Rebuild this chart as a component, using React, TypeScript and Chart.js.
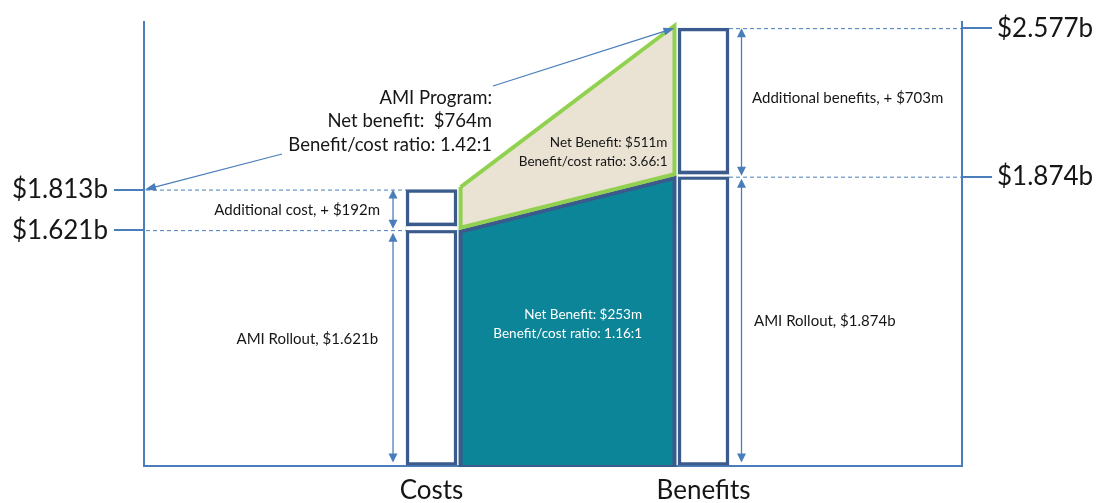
import React, { useEffect, useRef } from 'react';
import { Chart, registerables } from 'chart.js';

Chart.register(...registerables);

// ---------------- data ($ billions) ----------------
const categories = ['Costs', 'Benefits'];
const rolloutValues = [1.621, 1.874];
const additionalValues = [0.192, 0.703];
const programTotals = [1.813, 2.577];
const leftTickValues = [1.621, 1.813];
const rightTickValues = [1.874, 2.577];

const programNote = ['AMI Program:', 'Net benefit:  $764m', 'Benefit/cost ratio: 1.42:1'];
const upperNote = ['Net Benefit: $511m', 'Benefit/cost ratio: 3.66:1'];
const lowerNote = ['Net Benefit: $253m', 'Benefit/cost ratio: 1.16:1'];
const costLabels = ['Additional cost, + $192m', 'AMI Rollout, $1.621b'];
const benefitLabels = ['Additional benefits, + $703m', 'AMI Rollout, $1.874b'];

// ---------------- layout / style ----------------
const CATEGORY_POS = [35.15, 68.4];
const X_MIN = 0;
const X_MAX = 100;
const Y_MIN = 0.507;
const Y_MAX = 2.608;
const BAR_PX = 51;
const POLY_INSET = 3.55;

const NAVY = '#3A5B8C';
const TEAL = '#0C8599';
const BEIGE = '#EAE3D4';
const GREEN = '#92D050';
const BLUE = '#4A7EBB';
const TEXT = '#161616';
const FONT = 'Lato';

const fmtB = (v: number) => '$' + Number(v).toFixed(3) + 'b';

function drawArrowHead(ctx: CanvasRenderingContext2D, x1: number, y1: number, x2: number, y2: number, len = 9, hw = 4.5) {
  const a = Math.atan2(y2 - y1, x2 - x1);
  ctx.beginPath();
  ctx.moveTo(x2, y2);
  ctx.lineTo(x2 - len * Math.cos(a) + hw * Math.sin(a), y2 - len * Math.sin(a) - hw * Math.cos(a));
  ctx.lineTo(x2 - len * Math.cos(a) - hw * Math.sin(a), y2 - len * Math.sin(a) + hw * Math.cos(a));
  ctx.closePath();
  ctx.fill();
}

function arrow(ctx: CanvasRenderingContext2D, x1: number, y1: number, x2: number, y2: number, len = 9, hw = 4.5) {
  const a = Math.atan2(y2 - y1, x2 - x1);
  ctx.beginPath();
  ctx.moveTo(x1, y1);
  ctx.lineTo(x2 - (len - 1) * Math.cos(a), y2 - (len - 1) * Math.sin(a));
  ctx.stroke();
  drawArrowHead(ctx, x1, y1, x2, y2, len, hw);
}

function dimArrow(ctx: CanvasRenderingContext2D, x: number, yTop: number, yBot: number) {
  const len = 9;
  ctx.beginPath();
  ctx.moveTo(x, yTop + len - 1);
  ctx.lineTo(x, yBot - len + 1);
  ctx.stroke();
  drawArrowHead(ctx, x, yBot, x, yTop, len, 4.5);
  drawArrowHead(ctx, x, yTop, x, yBot, len, 4.5);
}

const offsetPlugin = {
  id: 'dsOffset',
  beforeDatasetDraw(chart: any, args: any) {
    const dy = chart.data.datasets[args.index].offsetY;
    if (dy) {
      chart.ctx.save();
      chart.ctx.translate(0, dy);
    }
  },
  afterDatasetDraw(chart: any, args: any) {
    const dy = chart.data.datasets[args.index].offsetY;
    if (dy) chart.ctx.restore();
  },
};

const annotationPlugin = {
  id: 'annotations',
  afterDatasetsDraw(chart: any) {
    const { ctx, chartArea: ca, scales } = chart;
    const xs = scales.x;
    const ys = scales.y;
    const Y = (v: number) => ys.getPixelForValue(v);
    const half = BAR_PX / 2;
    const cC = xs.getPixelForValue(CATEGORY_POS[0]);
    const bC = xs.getPixelForValue(CATEGORY_POS[1]);
    const cL = cC - half, cR = cC + half;
    const bL = bC - half, bR = bC + half;
    const polyR = xs.getPixelForValue(CATEGORY_POS[1] - POLY_INSET);
    const yBase = ca.bottom;

    ctx.save();
    // gaps between stacked boxes
    const gap = (xl: number, xr: number, yb: number, g: number) => {
      ctx.fillStyle = '#ffffff';
      ctx.fillRect(xl, yb - g, xr - xl, g);
      ctx.fillStyle = NAVY;
      ctx.fillRect(xl, yb - g - 3.5, xr - xl, 3.5);
    };
    gap(cL, cR, Y(rolloutValues[0]), 4);
    gap(bL, bR, Y(rolloutValues[1]), 2.5);

    // dashed guide lines
    ctx.strokeStyle = BLUE;
    ctx.lineWidth = 1;
    ctx.setLineDash([4, 3]);
    [programTotals[0], rolloutValues[0]].forEach((v) => {
      ctx.beginPath();
      ctx.moveTo(ca.left + 2, Y(v) + 0.5);
      ctx.lineTo(cL, Y(v) + 0.5);
      ctx.stroke();
    });
    [programTotals[1], rolloutValues[1]].forEach((v, i) => {
      ctx.beginPath();
      ctx.moveTo(bR, Y(v) + 0.5);
      ctx.lineTo(ca.right + (i === 1 ? 10 : 0), Y(v) + 0.5);
      ctx.stroke();
    });
    ctx.setLineDash([]);

    // dimension arrows
    ctx.fillStyle = BLUE;
    ctx.lineWidth = 1.3;
    const ax1 = cL - 13;
    dimArrow(ctx, ax1, Y(programTotals[0]), Y(rolloutValues[0]) - 1.5);
    dimArrow(ctx, ax1, Y(rolloutValues[0]) + 2.5, yBase - 3);
    const ax2 = bR + 12.5;
    dimArrow(ctx, ax2, Y(programTotals[1]), Y(rolloutValues[1]) - 1);
    dimArrow(ctx, ax2, Y(rolloutValues[1]) + 2, yBase - 3);

    // pointer arrows for program note
    ctx.lineWidth = 1.2;
    arrow(ctx, 282, 154, ca.left + 1, Y(programTotals[0]), 11, 4);
    arrow(ctx, 493, 86, polyR, Y(programTotals[1]), 11, 4);

    // texts
    ctx.textBaseline = 'middle';
    ctx.fillStyle = TEXT;
    ctx.font = `15px ${FONT}`;
    ctx.textAlign = 'right';
    ctx.fillText(costLabels[0], cL - 26, (Y(programTotals[0]) + Y(rolloutValues[0])) / 2);
    ctx.fillText(costLabels[1], cL - 28, (Y(rolloutValues[0]) + yBase) / 2 - 9);
    ctx.textAlign = 'left';
    ctx.fillText(benefitLabels[0], bR + 23, (Y(programTotals[1]) + Y(rolloutValues[1])) / 2 - 4);
    ctx.fillText(benefitLabels[1], bR + 25, (Y(rolloutValues[1]) + yBase) / 2);

    ctx.font = `13.5px ${FONT}`;
    ctx.textAlign = 'right';
    ctx.fillText(upperNote[0], polyR - 7, 143);
    ctx.fillText(upperNote[1], polyR - 7, 162);

    ctx.fillStyle = '#ffffff';
    ctx.fillText(lowerNote[0], 642, 315);
    ctx.fillText(lowerNote[1], 642, 334);

    ctx.fillStyle = TEXT;
    ctx.font = `18.5px ${FONT}`;
    programNote.forEach((t, i) => ctx.fillText(t, 492, 98 + i * 23.5));
    ctx.restore();
  },
};

export default function App() {
  const ref = useRef<HTMLCanvasElement | null>(null);

  useEffect(() => {
    if (!ref.current) return;
    Chart.defaults.font.family = FONT;
    const pL = CATEGORY_POS[0] + POLY_INSET;
    const pR = CATEGORY_POS[1] - POLY_INSET;

    const chart = new Chart(ref.current, {
      type: 'bar',
      data: {
        datasets: [
          {
            type: 'line',
            label: 'Rollout net benefit',
            data: [
              { x: pL, y: rolloutValues[0] },
              { x: pR, y: rolloutValues[1] },
            ],
            backgroundColor: TEAL,
            borderWidth: 0,
            pointRadius: 0,
            fill: 'start',
            order: 6,
          } as any,
          {
            type: 'line',
            label: 'Additional net benefit',
            data: [
              { x: pL, y: programTotals[0] },
              { x: pR, y: programTotals[1] },
            ],
            backgroundColor: BEIGE,
            borderWidth: 0,
            pointRadius: 0,
            fill: 0,
            order: 5,
          } as any,
          {
            type: 'line',
            label: 'Rollout outline',
            data: [
              { x: pL, y: Y_MIN },
              { x: pL, y: rolloutValues[0] },
              { x: pR, y: rolloutValues[1] },
              { x: pR, y: Y_MIN },
              { x: pL, y: Y_MIN },
            ],
            borderColor: NAVY,
            borderWidth: 4,
            borderJoinStyle: 'miter',
            pointRadius: 0,
            fill: false,
            offsetY: 1.5,
            order: 4,
          } as any,
          {
            type: 'line',
            label: 'Program outline',
            data: [
              { x: pL, y: programTotals[0] },
              { x: pR, y: programTotals[1] },
              { x: pR, y: rolloutValues[1] },
              { x: pL, y: rolloutValues[0] },
              { x: pL, y: programTotals[0] },
            ],
            borderColor: GREEN,
            borderWidth: 4,
            borderJoinStyle: 'miter',
            pointRadius: 0,
            fill: false,
            offsetY: -2.5,
            order: 3,
          } as any,
          {
            type: 'bar',
            label: 'AMI Rollout',
            data: categories.map((_, i) => ({ x: CATEGORY_POS[i], y: [Y_MIN, rolloutValues[i]] })),
            backgroundColor: '#ffffff',
            borderColor: NAVY,
            borderWidth: 3.5,
            borderSkipped: false,
            barThickness: BAR_PX,
            grouped: false,
            order: 2,
          } as any,
          {
            type: 'bar',
            label: 'Additional',
            data: categories.map((_, i) => ({ x: CATEGORY_POS[i], y: [rolloutValues[i], rolloutValues[i] + additionalValues[i]] })),
            backgroundColor: '#ffffff',
            borderColor: NAVY,
            borderWidth: 3.5,
            borderSkipped: false,
            barThickness: BAR_PX,
            grouped: false,
            order: 1,
          } as any,
        ],
      },
      options: {
        animation: false,
        responsive: false,
        devicePixelRatio: 1,
        events: [],
        layout: { padding: { top: 18, left: 0, right: 0, bottom: 0 } },
        plugins: {
          legend: { display: false },
          tooltip: { enabled: false },
        },
        scales: {
          x: {
            type: 'linear',
            min: X_MIN,
            max: X_MAX,
            offset: false,
            bounds: 'data',
            afterBuildTicks: (ax: any) => {
              ax.ticks = CATEGORY_POS.map((v) => ({ value: v }));
            },
            afterFit: (ax: any) => {
              ax.height = 37.5;
            },
            ticks: {
              autoSkip: false,
              maxRotation: 0,
              padding: 10,
              color: TEXT,
              font: { size: 26, family: FONT },
              callback: (_v: any, i: number) => categories[i],
            },
            grid: { drawOnChartArea: false, drawTicks: false },
            border: { display: true, color: BLUE, width: 2 },
          },
          y: {
            type: 'linear',
            position: 'left',
            min: Y_MIN,
            max: Y_MAX,
            bounds: 'data',
            beginAtZero: false,
            afterBuildTicks: (ax: any) => {
              ax.ticks = leftTickValues.map((v) => ({ value: v }));
            },
            afterFit: (ax: any) => {
              ax.width = 144;
            },
            ticks: {
              autoSkip: false,
              padding: 6,
              color: TEXT,
              font: { size: 26, family: FONT },
              callback: (v: any) => fmtB(v),
            },
            grid: { drawOnChartArea: false, drawTicks: true, tickLength: 30, color: BLUE, lineWidth: 2 },
            border: { display: true, color: BLUE, width: 2 },
          },
          y2: {
            type: 'linear',
            position: 'right',
            min: Y_MIN,
            max: Y_MAX,
            bounds: 'data',
            beginAtZero: false,
            afterBuildTicks: (ax: any) => {
              ax.ticks = rightTickValues.map((v) => ({ value: v }));
            },
            afterFit: (ax: any) => {
              ax.width = 144;
            },
            ticks: {
              autoSkip: false,
              padding: 5,
              color: TEXT,
              font: { size: 26, family: FONT },
              callback: (v: any) => fmtB(v),
            },
            grid: { drawOnChartArea: false, drawTicks: true, tickLength: 30, color: BLUE, lineWidth: 2 },
            border: { display: true, color: BLUE, width: 2 },
          },
        },
      } as any,
      plugins: [offsetPlugin, annotationPlugin] as any,
    });
    return () => chart.destroy();
  }, []);

  return (
    <div style={{ position: 'fixed', left: 0, top: 0, width: 1106, height: 503, background: '#fff' }}>
      <canvas ref={ref} width={1106} height={503} style={{ width: 1106, height: 503, display: 'block' }} />
    </div>
  );
}
